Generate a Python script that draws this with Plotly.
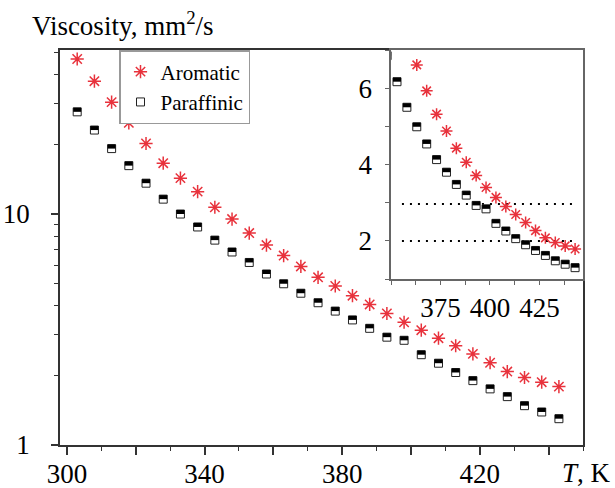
import math
import plotly.graph_objects as go

# ---------------- data ----------------
T = [303, 308, 313, 318, 323, 328, 333, 338, 343, 348, 353, 358, 363, 368, 373,
     378, 383, 388, 393, 398, 403, 408, 413, 418, 423, 428, 433, 438, 443]
aromatic = [46.9, 37.6, 30.5, 24.8, 20.2, 16.6, 14.3, 12.5, 10.7, 9.51, 8.27, 7.34,
            6.61, 5.93, 5.32, 4.88, 4.43, 4.06, 3.71, 3.40, 3.14, 2.90, 2.69, 2.48,
            2.27, 2.08, 1.96, 1.87, 1.79]
paraffinic = [27.7, 23.1, 19.2, 16.2, 13.6, 11.6, 10.0, 8.79, 7.71, 6.85, 6.17, 5.50,
              4.99, 4.54, 4.13, 3.80, 3.48, 3.20, 2.93, 2.84, 2.46, 2.26, 2.06, 1.90,
              1.75, 1.62, 1.48, 1.39, 1.30]

main_xticks = [300, 320, 340, 360, 380, 400, 420, 440]
main_xlabels = ["300", "", "340", "", "380", "", "420", ""]
main_yticks = [1, 10]
main_yminor = [2, 3, 4, 5, 6, 7, 8, 9, 20, 30, 40, 50]
inset_xticks = [350, 362.5, 375, 387.5, 400, 412.5, 425, 437.5]
inset_xlabels = ["", "", "375", "", "400", "", "425", ""]
inset_yticks = [1, 2, 3, 4, 5, 6, 7]
inset_ylabels = ["", "2", "", "4", "", "6", ""]
ref_levels = [2.0, 2.97]
ref_span = [355.5, 442.5]

# ---------------- layout geometry ----------------
W, H = 615, 488
ML, MR, MT, MB = 60, 32, 50, 43
PW, PH = W - ML - MR, H - MT - MB
XR = [298, 450]
YR = [0, math.log10(51.3)]
IXD = [0.633, 1.0]
IYD = [0.42, 1.0]
IXR = [350, 447]
IYR = [1, 7]

FONT = "Liberation Serif"
RED = "#e8323c"
AX = "#333333"
IAX = "#666666"

px_per_dec = PH / (YR[1] - YR[0])
px_per_unit_in = PH * (IYD[1] - IYD[0]) / (IYR[1] - IYR[0])
shift_main = 10 ** (2.0 / px_per_dec)
shift_in = 2.0 / px_per_unit_in

fig = go.Figure()

# main plot
fig.add_trace(go.Scatter(x=T, y=aromatic, mode="markers", name="Aromatic",
                         marker=dict(symbol="asterisk-open", size=11, color=RED,
                                     line=dict(color=RED, width=1.5))))
fig.add_trace(go.Scatter(x=T, y=paraffinic, mode="markers", name="Paraffinic",
                         marker=dict(symbol="square", size=8, color="white",
                                     line=dict(color="#222", width=1))))
fig.add_trace(go.Scatter(x=T, y=[v * shift_main for v in paraffinic], mode="markers",
                         showlegend=False, hoverinfo="skip",
                         marker=dict(symbol="line-ew", size=5.7, color="black",
                                     line=dict(color="black", width=4))))

# inset
fig.add_trace(go.Scatter(x=T, y=aromatic, mode="markers", showlegend=False,
                         xaxis="x2", yaxis="y2",
                         marker=dict(symbol="asterisk-open", size=10, color=RED,
                                     line=dict(color=RED, width=1.5))))
fig.add_trace(go.Scatter(x=T, y=paraffinic, mode="markers", showlegend=False,
                         xaxis="x2", yaxis="y2",
                         marker=dict(symbol="square", size=8, color="white",
                                     line=dict(color="#222", width=1))))
fig.add_trace(go.Scatter(x=T, y=[v + shift_in for v in paraffinic], mode="markers",
                         showlegend=False, hoverinfo="skip", xaxis="x2", yaxis="y2",
                         marker=dict(symbol="line-ew", size=5.7, color="black",
                                     line=dict(color="black", width=4))))

for lv in ref_levels:
    fig.add_shape(type="line", xref="x2", yref="y2", x0=ref_span[0], x1=ref_span[1],
                  y0=lv, y1=lv, line=dict(color="black", width=2, dash="2px,6px"),
                  layer="below")

tickfont = dict(family=FONT, size=27, color="black")

fig.update_layout(
    width=W, height=H,
    margin=dict(l=ML, r=MR, t=MT, b=MB, autoexpand=False),
    paper_bgcolor="white", plot_bgcolor="white",
    font=dict(family=FONT, color="black"),
    showlegend=True,
    legend=dict(x=(119 - ML) / PW, y=1, xanchor="left", yanchor="top",
                bgcolor="white", bordercolor="#999", borderwidth=1.5,
                font=dict(family=FONT, size=21, color="black"),
                tracegroupgap=0),
    xaxis=dict(domain=[0, 1], range=XR, tickmode="array", tickvals=main_xticks,
               ticktext=main_xlabels, ticks="outside", ticklen=8, tickwidth=1.5,
               tickcolor=AX, showline=True, linecolor=AX, linewidth=1.5, mirror=True,
               showgrid=False, zeroline=False, tickfont=tickfont, automargin=False,
               tickangle=0, ticklabelstandoff=-4,
               minor=dict(ticks="outside", ticklen=4, tickwidth=1.2, tickcolor=AX,
                          tick0=300, dtick=10, showgrid=False)),
    yaxis=dict(domain=[0, 1], type="log", range=YR, tickmode="array",
               tickvals=main_yticks, ticktext=["1", "10"], ticks="outside",
               ticklen=7, tickwidth=1.5, tickcolor=AX, showline=True, linecolor=AX,
               linewidth=1.5, mirror=True, showgrid=False, zeroline=False,
               tickfont=tickfont, ticklabelstandoff=16, automargin=False,
               tickangle=0,
               minor=dict(ticks="outside", ticklen=4, tickwidth=1.2, tickcolor=AX,
                          tickvals=main_yminor, showgrid=False)),
    xaxis2=dict(domain=IXD, anchor="y2", range=IXR, tickmode="array",
                tickvals=inset_xticks, ticktext=inset_xlabels, ticks="outside",
                ticklen=4, tickwidth=1.2, tickcolor=IAX, showline=True,
                linecolor=IAX, linewidth=1.5, mirror=True, showgrid=False,
                zeroline=False, tickfont=tickfont, automargin=False, tickangle=0),
    yaxis2=dict(domain=IYD, anchor="x2", range=IYR, tickmode="array",
                tickvals=inset_yticks, ticktext=inset_ylabels, ticks="outside",
                ticklen=4, tickwidth=1.2, tickcolor=IAX, showline=True,
                linecolor=IAX, linewidth=1.5, mirror=True, showgrid=False,
                zeroline=False, tickfont=tickfont, ticklabelstandoff=8,
                automargin=False, tickangle=0),
)

fig.add_annotation(text="Viscosity, mm<sup>2</sup>/s", xref="paper", yref="paper",
                   x=(30 - ML) / PW, y=(H - MB - 24) / PH, xanchor="left",
                   yanchor="middle", showarrow=False,
                   font=dict(family=FONT, size=27, color="black"))
fig.add_annotation(text="<i>T</i>, K", xref="paper", yref="paper",
                   x=(613 - ML) / PW, y=(H - MB - 473) / PH, xanchor="right",
                   yanchor="middle", showarrow=False,
                   font=dict(family=FONT, size=27, color="black"))

fig.write_html("out.html", config={"displayModeBar": False},
               post_script="document.body.style.margin='0px';"
                           "document.body.style.padding='0px';")
